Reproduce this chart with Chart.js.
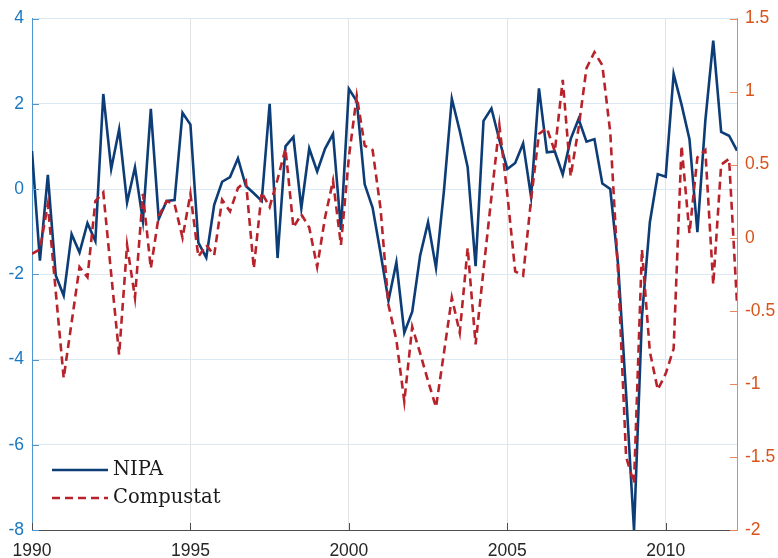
<!DOCTYPE html>
<html>
<head>
<meta charset="utf-8">
<script src="https://cdn.jsdelivr.net/npm/chart.js@4/dist/chart.umd.min.js"></script>
<style>
  html, body { margin: 0; padding: 0; background: #ffffff; }
  #wrap { width: 778px; height: 558px; }
</style>
</head>
<body>
<div id="wrap"><canvas id="c" width="778" height="558"></canvas></div>
<script>
// Quarterly series, 1990Q1 .. 2012Q2
const startYear = 1990;
const nipa = [
  0.89, -1.68, 0.33, -2.03, -2.5, -1.06, -1.49, -0.8, -1.22, 2.23,
  0.47, 1.4, -0.32, 0.51, -0.75, 1.88, -0.7, -0.28, -0.26, 1.79,
  1.51, -1.26, -1.61, -0.37, 0.17, 0.28, 0.72, 0.07, -0.1, -0.28,
  2.0, -1.62, 1.0, 1.22, -0.45, 0.95, 0.41, 0.95, 1.29, -0.96,
  2.35, 2.06, 0.11, -0.44, -1.5, -2.62, -1.72, -3.37, -2.88, -1.56,
  -0.78, -1.85, -0.05, 2.12, 1.36, 0.51, -1.81, 1.6, 1.89, 1.15,
  0.47, 0.61, 1.07, -0.18, 2.36, 0.86, 0.88, 0.34, 1.17, 1.64,
  1.11, 1.17, 0.13, 0.0, -1.8, -4.8, -8.0, -3.0, -0.78, 0.35,
  0.29, 2.7, 1.98, 1.17, -1.01, 1.6, 3.48, 1.34, 1.25, 0.9
];
const compustat = [
  -0.11, -0.08, 0.23, -0.37, -0.96, -0.58, -0.2, -0.27, 0.25, 0.31,
  -0.25, -0.8, -0.05, -0.41, 0.3, -0.21, 0.15, 0.25, 0.23, 0.0,
  0.3, -0.13, -0.05, -0.12, 0.26, 0.18, 0.34, 0.39, -0.21, 0.31,
  0.21, 0.4, 0.61, 0.07, 0.16, 0.07, -0.2, 0.14, 0.39, -0.05,
  0.55, 0.97, 0.63, 0.6, 0.2, -0.46, -0.7, -1.12, -0.61, -0.79,
  -0.98, -1.16, -0.79, -0.41, -0.65, -0.07, -0.73, -0.22, 0.28, 0.77,
  0.3, -0.23, -0.26, 0.26, 0.71, 0.75, 0.59, 1.08, 0.42, 0.75,
  1.16, 1.27, 1.18, 0.72, -0.25, -1.5, -1.68, -0.08, -0.78, -1.04,
  -0.93, -0.76, 0.63, 0.03, 0.55, 0.6, -0.32, 0.5, 0.54, -0.45
];
const xDates = nipa.map((_, i) => startYear + i / 4);
const xTicks = [1990, 1995, 2000, 2005, 2010];
const leftTicks = [-8, -6, -4, -2, 0, 2, 4];
const rightTicks = [-2, -1.5, -1, -0.5, 0, 0.5, 1, 1.5];
const seriesNames = ['NIPA', 'Compustat'];

const navy = '#0d3d76';
const red = '#b8232b';
const blueAxis = '#1a78c2';
const orangeAxis = '#d95319';
const tickFont = { family: "'Liberation Sans', Arial, Helvetica, sans-serif", size: 17.5 };

const tickMarks = {
  id: 'tickMarks',
  afterDraw(chart) {
    const { ctx, chartArea } = chart;
    const xs = chart.scales.x, yl = chart.scales.y, yr = chart.scales.y2;
    ctx.save();
    ctx.lineWidth = 1;
    ctx.strokeStyle = '#5096cc';
    yl.ticks.forEach(t => {
      const p = Math.round(yl.getPixelForValue(t.value)) + 0.5;
      ctx.beginPath(); ctx.moveTo(chartArea.left, p); ctx.lineTo(chartArea.left + 7, p); ctx.stroke();
    });
    ctx.strokeStyle = '#e8875a';
    yr.ticks.forEach(t => {
      const p = Math.round(yr.getPixelForValue(t.value)) + 0.5;
      ctx.beginPath(); ctx.moveTo(chartArea.right - 7, p); ctx.lineTo(chartArea.right, p); ctx.stroke();
    });
    ctx.strokeStyle = '#4d4d4d';
    xs.ticks.forEach(t => {
      const p = Math.round(xs.getPixelForValue(t.value)) + 0.5;
      ctx.beginPath(); ctx.moveTo(p, chartArea.bottom); ctx.lineTo(p, chartArea.bottom - 7); ctx.stroke();
    });
    // legend
    const lx = chartArea.left + 20, ly1 = chartArea.bottom - 60, ly2 = chartArea.bottom - 32;
    ctx.lineWidth = 2.5;
    ctx.strokeStyle = navy;
    ctx.setLineDash([]);
    ctx.beginPath(); ctx.moveTo(lx, ly1); ctx.lineTo(lx + 56, ly1); ctx.stroke();
    ctx.strokeStyle = red;
    ctx.setLineDash([8, 5]);
    ctx.beginPath(); ctx.moveTo(lx, ly2); ctx.lineTo(lx + 56, ly2); ctx.stroke();
    ctx.setLineDash([]);
    ctx.fillStyle = '#1a1a1a';
    ctx.font = "19.5px 'DejaVu Serif', 'Liberation Serif', serif";
    ctx.textBaseline = 'middle';
    ctx.textAlign = 'left';
    ctx.fillText(seriesNames[0], lx + 61, ly1);
    ctx.fillText(seriesNames[1], lx + 61, ly2);
    ctx.restore();
  }
};

new Chart(document.getElementById('c'), {
  type: 'line',
  data: {
    datasets: [
      {
        label: seriesNames[0],
        data: xDates.map((x, i) => ({ x, y: nipa[i] })),
        yAxisID: 'y',
        borderColor: navy,
        borderWidth: 2.6,
        pointRadius: 0,
        tension: 0,
        order: 2
      },
      {
        label: seriesNames[1],
        data: xDates.map((x, i) => ({ x, y: compustat[i] })),
        yAxisID: 'y2',
        borderColor: red,
        borderWidth: 2.6,
        borderDash: [8, 5],
        pointRadius: 0,
        tension: 0,
        order: 1
      }
    ]
  },
  options: {
    responsive: false,
    animation: false,
    devicePixelRatio: 1,
    layout: { padding: { top: 17, left: 0, right: 0, bottom: 0 } },
    plugins: { legend: { display: false }, tooltip: { enabled: false } },
    scales: {
      x: {
        type: 'linear',
        min: xDates[0],
        max: xDates[xDates.length - 1],
        afterBuildTicks: s => { s.ticks = xTicks.map(v => ({ value: v })); },
        afterFit: s => { s.height = 28; },
        ticks: { color: '#262626', font: tickFont, padding: 11, maxRotation: 0, callback: v => String(v) },
        grid: { color: '#e3e3e3', drawTicks: false, tickLength: 0 },
        border: { color: '#4d4d4d', width: 1 }
      },
      y: {
        position: 'left',
        min: -8, max: 4,
        afterBuildTicks: s => { s.ticks = leftTicks.map(v => ({ value: v })); },
        afterFit: s => { s.width = 32; },
        ticks: { color: blueAxis, font: tickFont, padding: 8, callback: v => String(v) },
        grid: { color: '#dbe9f5', drawTicks: false, tickLength: 0 },
        border: { color: '#5096cc', width: 1 }
      },
      y2: {
        position: 'right',
        min: -2, max: 1.5,
        afterBuildTicks: s => { s.ticks = rightTicks.map(v => ({ value: v })); },
        afterFit: s => { s.width = 41; },
        ticks: { color: orangeAxis, font: tickFont, padding: 8, callback: v => String(v) },
        grid: { display: false, drawTicks: false, tickLength: 0 },
        border: { color: '#e8875a', width: 1 }
      }
    }
  },
  plugins: [tickMarks]
});
</script>
</body>
</html>
